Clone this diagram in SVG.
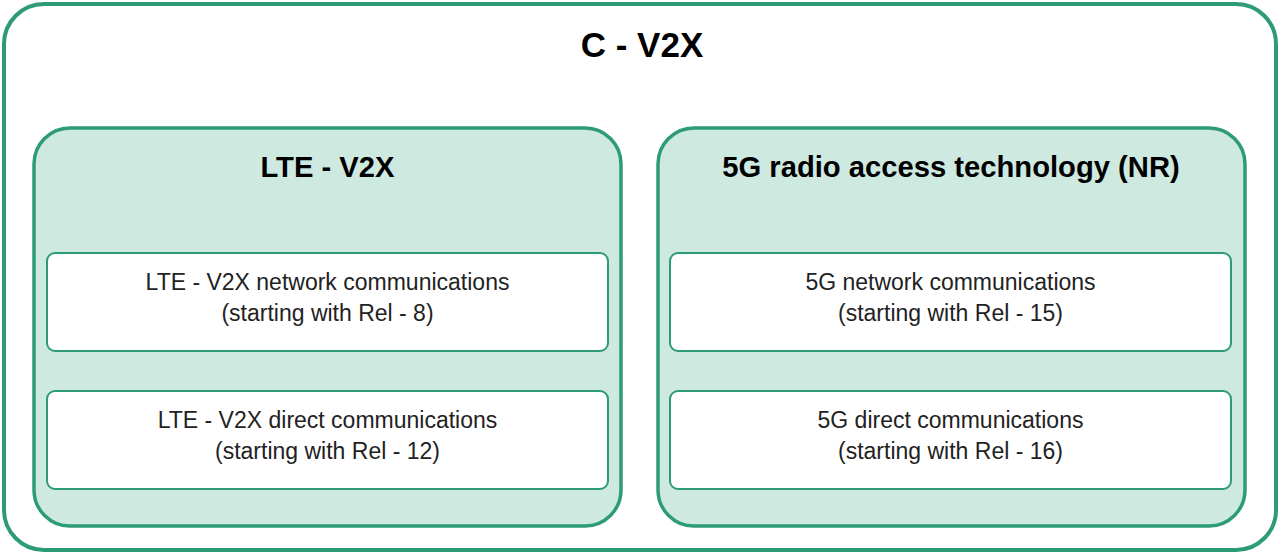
<svg xmlns="http://www.w3.org/2000/svg" width="1280" height="554" viewBox="0 0 1280 554">
<style>
.outer{fill:#ffffff;stroke:#2d9a78;stroke-width:4}
.group{fill:#cde9e0;stroke:#2d9a78;stroke-width:3.5}
.box{fill:#ffffff;stroke:#2d9a78;stroke-width:2}
.t1{font-family:"Liberation Sans",Arial,sans-serif;font-weight:bold;font-size:35px;fill:#000;text-anchor:middle}
.t2{font-family:"Liberation Sans",Arial,sans-serif;font-weight:bold;font-size:29.2px;fill:#000;text-anchor:middle}
.t3{font-family:"Liberation Sans",Arial,sans-serif;font-size:23px;fill:#222;text-anchor:middle}
</style>
<g id="cv2x">
<rect class="outer" x="4" y="4" width="1272" height="546" rx="40"/>
<text class="t1" x="642" y="57">C - V2X</text>
</g>
<g id="ltev2x">
<rect class="group" x="34" y="128" width="587" height="398" rx="36"/>
<text class="t2" x="327.5" y="177">LTE - V2X</text>
</g>
<g id="nr">
<rect class="group" x="658" y="128" width="587" height="398" rx="36"/>
<text class="t2" x="951" y="177">5G radio access technology (NR)</text>
</g>
<g id="lte-network">
<rect class="box" x="47" y="253" width="561" height="98" rx="8"/>
<text class="t3" x="327.5" y="290">LTE - V2X network communications</text>
<text class="t3" x="327.5" y="321">(starting with Rel - 8)</text>
</g>
<g id="lte-direct">
<rect class="box" x="47" y="391" width="561" height="98" rx="8"/>
<text class="t3" x="327.5" y="428">LTE - V2X direct communications</text>
<text class="t3" x="327.5" y="459">(starting with Rel - 12)</text>
</g>
<g id="nr-network">
<rect class="box" x="670" y="253" width="561" height="98" rx="8"/>
<text class="t3" x="950.5" y="290">5G network communications</text>
<text class="t3" x="950.5" y="321">(starting with Rel - 15)</text>
</g>
<g id="nr-direct">
<rect class="box" x="670" y="391" width="561" height="98" rx="8"/>
<text class="t3" x="950.5" y="428">5G direct communications</text>
<text class="t3" x="950.5" y="459">(starting with Rel - 16)</text>
</g>
<g id="connectors"></g>
</svg>
